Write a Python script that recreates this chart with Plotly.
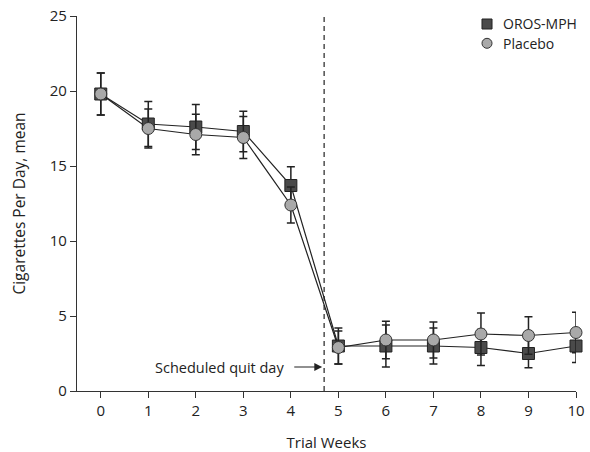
import plotly.graph_objects as go

weeks = [0, 1, 2, 3, 4, 5, 6, 7, 8, 9, 10]
oros_mean = [19.8, 17.8, 17.6, 17.3, 13.7, 3.0, 3.0, 3.0, 2.9, 2.5, 3.0]
oros_err = [1.4, 1.5, 1.5, 1.35, 1.25, 1.2, 1.4, 1.2, 1.2, 0.95, 1.1]
placebo_mean = [19.8, 17.5, 17.1, 16.9, 12.4, 2.9, 3.4, 3.4, 3.8, 3.7, 3.9]
placebo_err = [1.4, 1.3, 1.35, 1.4, 1.2, 1.1, 1.25, 1.2, 1.4, 1.25, 1.35]
series_names = ["OROS-MPH", "Placebo"]
quit_day = 4.7
y_ticks = [0, 5, 10, 15, 20, 25]

font_family = "Open Sans, Noto Sans, sans-serif"
line_col = "#222222"
sq_fill, sq_edge = "#4a4a4a", "#222222"
ci_fill, ci_edge = "#a9a9a9", "#333333"

fig = go.Figure()

fig.add_trace(go.Scatter(
    x=weeks, y=oros_mean, mode="lines+markers", name=series_names[0], showlegend=False,
    line=dict(color=line_col, width=1.2),
    marker=dict(symbol="square", size=12, color=sq_fill, line=dict(color=sq_edge, width=1)),
    error_y=dict(type="data", array=oros_err, visible=True, color=line_col, thickness=1.5, width=4),
    cliponaxis=False,
))
fig.add_trace(go.Scatter(
    x=weeks, y=placebo_mean, mode="lines+markers", name=series_names[1], showlegend=False,
    line=dict(color=line_col, width=1.2),
    marker=dict(symbol="circle", size=12, color=ci_fill, line=dict(color=ci_edge, width=1)),
    error_y=dict(type="data", array=placebo_err, visible=True, color=line_col, thickness=1.5, width=4),
    cliponaxis=False,
))

# dashed quit-day line
fig.add_shape(type="line", xref="x", yref="y", x0=quit_day, x1=quit_day, y0=0, y1=25,
              line=dict(color="#222222", width=1.2, dash="5px,4px"))

# arrow + label
fig.add_annotation(x=quit_day, y=1.6, xref="x", yref="y", ax=4.04, ay=1.6, axref="x", ayref="y",
                   text="", showarrow=True, arrowhead=2, arrowsize=1.3, arrowwidth=1.2,
                   arrowcolor="#222222", standoff=2)
fig.add_annotation(x=3.9, y=1.6, xref="x", yref="y", text="Scheduled quit day", showarrow=False,
                   xanchor="right", yanchor="middle", font=dict(size=14.5, color="#222222", family=font_family))

# legend (top right)
fig.add_shape(type="rect", xref="paper", yref="paper", x0=0.8116, x1=0.8317, y0=0.9653, y1=0.992,
              fillcolor=sq_fill, line=dict(color=sq_edge, width=1))
fig.add_shape(type="circle", xref="paper", yref="paper", x0=0.8116, x1=0.8317, y0=0.9139, y1=0.9405,
              fillcolor=ci_fill, line=dict(color=ci_edge, width=1))
fig.add_annotation(x=0.849, y=0.9787, xref="paper", yref="paper", text=series_names[0], showarrow=False,
                   xanchor="left", yanchor="middle", font=dict(size=14, color="#222222", family=font_family))
fig.add_annotation(x=0.849, y=0.9272, xref="paper", yref="paper", text=series_names[1], showarrow=False,
                   xanchor="left", yanchor="middle", font=dict(size=14, color="#222222", family=font_family))

fig.update_layout(
    width=590, height=452,
    margin=dict(l=77, r=14, t=16, b=61),
    paper_bgcolor="white", plot_bgcolor="white", showlegend=False,
    font=dict(family=font_family, size=15, color="#222222"),
    xaxis=dict(range=[-0.5, 10], tickmode="array", tickvals=weeks, ticks="outside", ticklen=6,
               tickcolor="#333333", showline=True, linecolor="#333333", linewidth=1.2,
               showgrid=False, zeroline=False, automargin=False, ticklabeloverflow="allow",
               title=dict(text="Trial Weeks", standoff=21, font=dict(size=15))),
    yaxis=dict(range=[0, 25], tickmode="array", tickvals=y_ticks, ticks="outside", ticklen=6,
               tickcolor="#333333", showline=True, linecolor="#333333", linewidth=1.2,
               showgrid=False, zeroline=False, automargin=False, ticklabeloverflow="allow",
               title=dict(text="Cigarettes Per Day, mean", standoff=20, font=dict(size=15.5))),
)

fig.write_html(
    "out.html",
    config={"displayModeBar": False},
    post_script="document.body.style.margin='0';document.body.style.overflow='hidden';",
)
